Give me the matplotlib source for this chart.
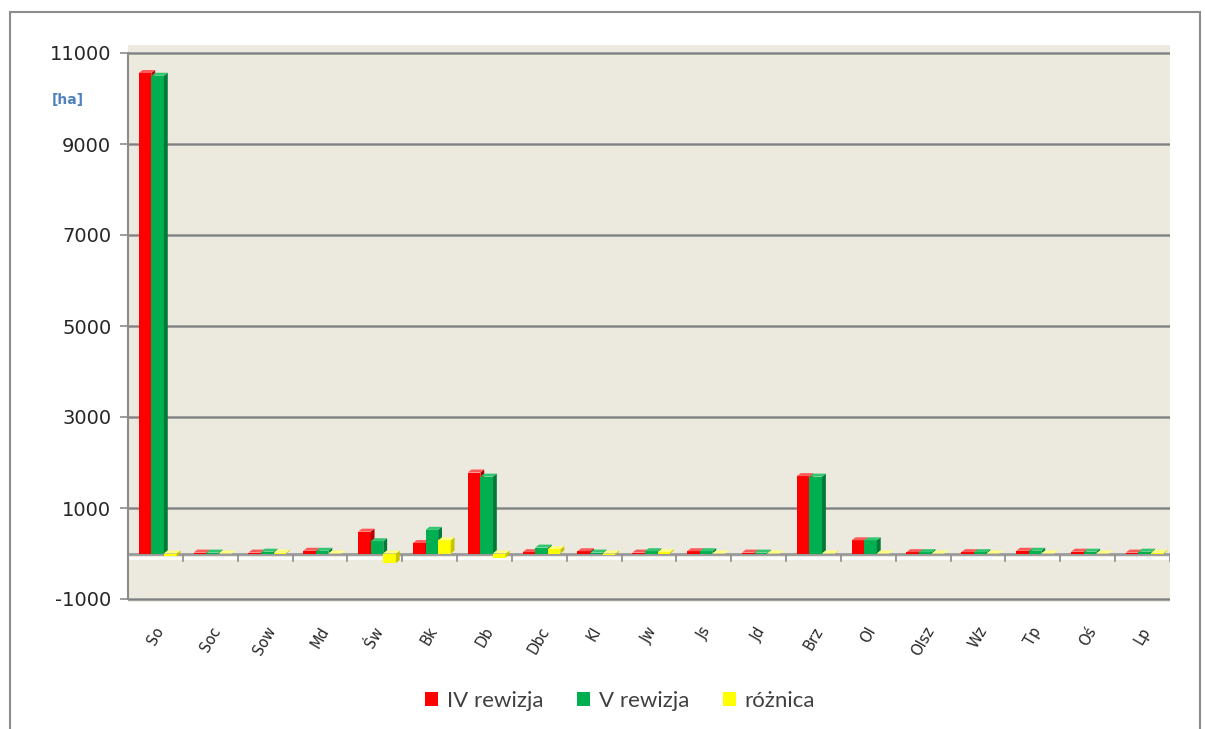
import matplotlib
matplotlib.use("Agg")
import matplotlib.pyplot as plt
import numpy as np
from matplotlib.patches import Polygon, Rectangle, Patch

categories = ["So", "Soc", "Sow", "Md", "Św", "Bk", "Db", "Dbc", "Kl", "Jw",
              "Js", "Jd", "Brz", "Ol", "Olsz", "Wz", "Tp", "Oś", "Lp"]
rew_iv = [10560, 20, 20, 60, 480, 230, 1780, 30, 50, 20, 50, 20, 1700, 290, 30, 30, 60, 40, 20]
rew_v = [10500, 20, 40, 60, 270, 520, 1690, 130, 20, 50, 50, 20, 1690, 290, 30, 30, 60, 40, 40]
roznica = [-60, 0, 20, 0, -210, 290, -90, 100, -30, 30, 0, 0, -10, 0, 0, 0, 0, 0, 20]
series_names = ["IV rewizja", "V rewizja", "różnica"]
yticks = [-1000, 1000, 3000, 5000, 7000, 9000, 11000]

colors = ["#FF0000", "#00B050", "#FFFF00"]
side_colors = ["#B00000", "#007A36", "#C8C400"]
top_colors = ["#FF5A5A", "#33C670", "#FFFF80"]

W, H = 1205, 729
fig = plt.figure(figsize=(W / 100, H / 100), dpi=100)
fig.patch.set_facecolor("white")

# outer frame
fig.add_artist(Rectangle((10 / W, -0.01), 1190 / W, (H - 12) / H + 0.01,
                         transform=fig.transFigure, fill=False,
                         edgecolor="#8C8C8C", lw=1.5))

ax = fig.add_axes([128 / W, 127 / H, (1170 - 128) / W, (602 - 45) / H])
ax.set_facecolor("#ECE9DF")
ylo = -1000 - 3 / 45.5 * 1000
yhi = 11000 + 8 / 45.5 * 1000
ax.set_ylim(ylo, yhi)
n = len(categories)
ax.set_xlim(-0.5, n - 0.5)

for s in ["top", "right"]:
    ax.spines[s].set_visible(False)
ax.spines["left"].set_color("#8C8C8C")
ax.spines["left"].set_linewidth(1.5)
ax.spines["left"].set_bounds(-1000, 11000)
ax.spines["bottom"].set_visible(False)

# gridlines
for yv in yticks:
    ax.axhline(yv, color="#A0A0A0", lw=2.0, zorder=1)
    ax.axhline(yv, color="#808080", lw=0.9, zorder=1.1)
ax.axhline(0, color="#9A9A9A", lw=2.0, zorder=1)
ax.axhline(-100, color="#FFFFFF", lw=2.0, zorder=1)

ax.set_yticks(yticks)
ax.set_yticklabels([str(v) for v in yticks], fontsize=14, color="#262626")
ax.tick_params(axis="y", length=6, width=1.2, color="#8C8C8C", pad=6)

x = np.arange(n)
offsets = [-0.19, 0.04, 0.27]
bw = 0.23
dx = 0.07
dy = 3 / 45.5 * 1000
data = [rew_iv, rew_v, roznica]
for k in range(3):
    bars = ax.bar(x + offsets[k], data[k], width=bw, color=colors[k],
                  zorder=3 + k, linewidth=0)
    for b in bars:
        x0 = b.get_x()
        x1 = x0 + b.get_width()
        y0 = b.get_y()
        y1 = y0 + b.get_height()
        ytop = max(y0, y1)
        ax.add_patch(Polygon([(x1, y0), (x1, y1), (x1 + dx, y1 + dy), (x1 + dx, y0 + dy)],
                             closed=True, facecolor=side_colors[k], lw=0, zorder=3 + k))
        ax.add_patch(Polygon([(x0, ytop), (x1, ytop), (x1 + dx, ytop + dy), (x0 + dx, ytop + dy)],
                             closed=True, facecolor=top_colors[k], lw=0, zorder=3 + k))

# category ticks along the floor
for b in np.arange(-0.5, n + 0.5, 1.0):
    ax.plot([b, b], [-60, -160], color="#8C8C8C", lw=1.2, zorder=2)

ax.set_xticks(x)
ax.set_xticklabels(categories, rotation=60, fontsize=10.5, ha="center", color="#262626")
ax.tick_params(axis="x", length=0, pad=16)

fig.text(68 / W, 1 - 100 / H, "[ha]", color="#4F81BD", fontsize=10,
         fontweight="bold", ha="center", va="center")

handles = [Patch(facecolor=c, edgecolor="none") for c in colors]
fig.legend(handles, series_names, loc="center", bbox_to_anchor=(620 / W, 1 - 701 / H),
           ncol=3, frameon=False, prop={"family": "Lato", "size": 16},
           handlelength=0.6, handleheight=0.6, handletextpad=0.4, columnspacing=1.5,
           labelcolor="#404040")

fig.savefig("out.png", dpi=100, facecolor="white")
